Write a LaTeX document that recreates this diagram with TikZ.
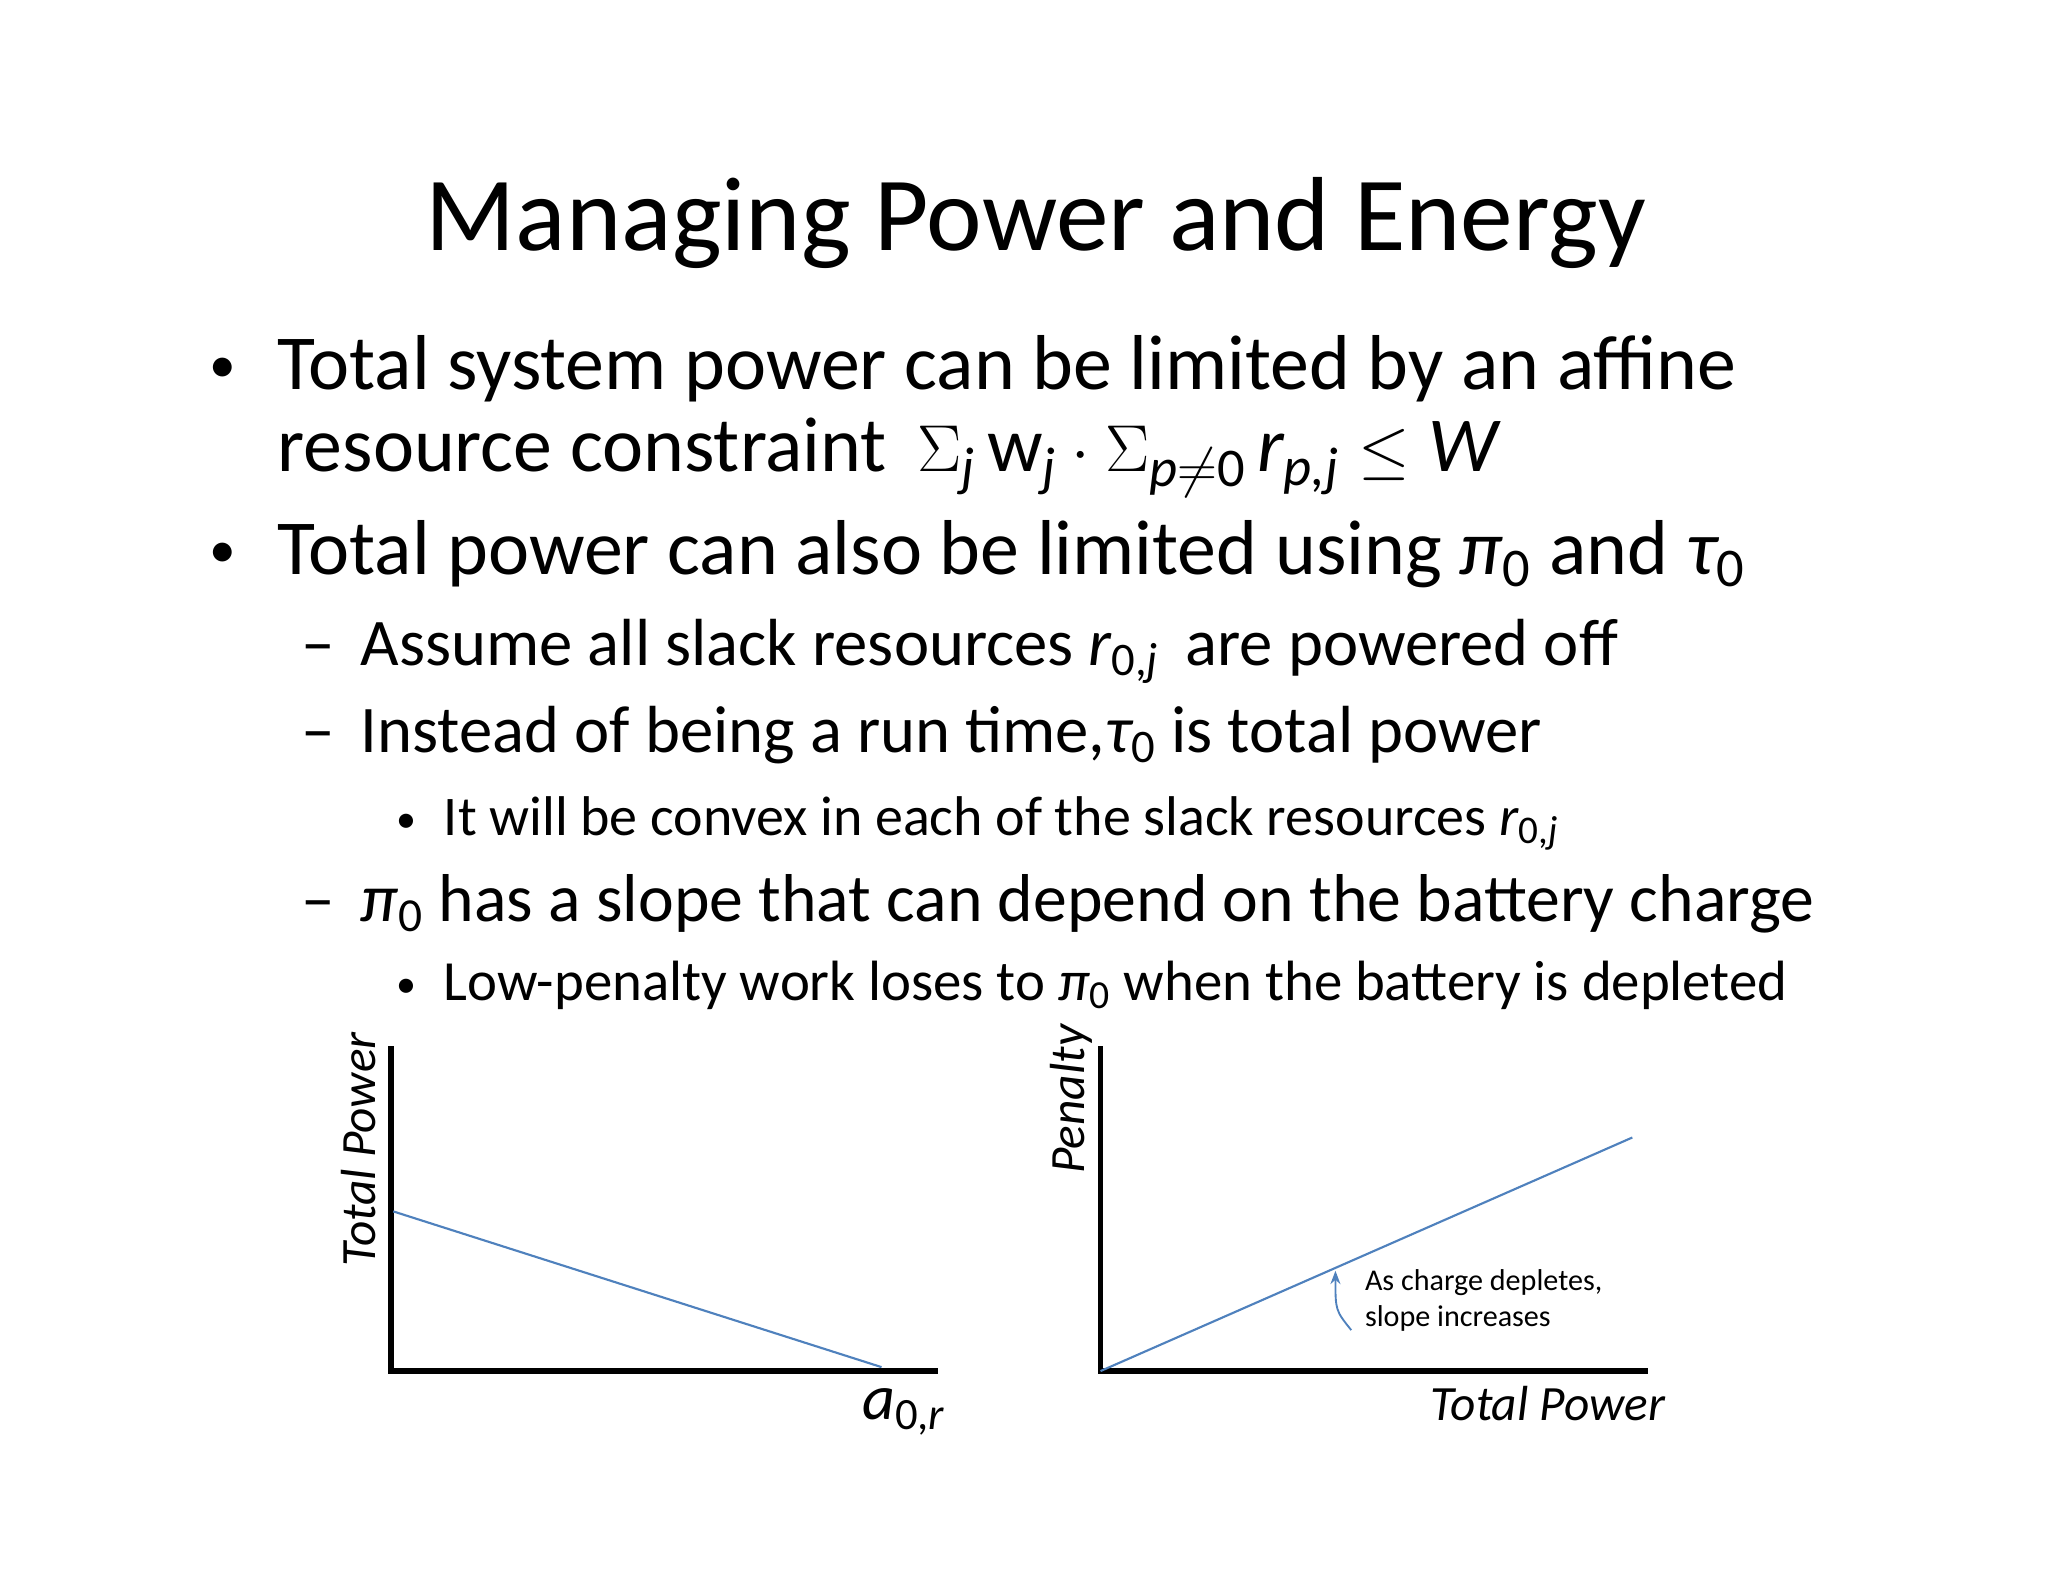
\documentclass[tikz,border=0pt]{standalone}
\usepackage{amsmath}
\usepackage{fontspec}
\setmainfont{Carlito}
\usetikzlibrary{arrows.meta}
\definecolor{lineblue}{RGB}{79,129,189}
\newcommand{\iv}[1]{\text{\itshape #1}}
\begin{document}
\begin{tikzpicture}[x=0.495pt,y=-0.495pt,
  txt/.style={anchor=base west,inner sep=0pt},
  axis/.style={line width=2.2pt,black},
  plot/.style={lineblue,line width=0.8pt}]
\useasboundingbox (0,0) rectangle (1552,1199);
\node[anchor=base,inner sep=0pt,font=\fontsize{39.5}{48}\selectfont] (title) at (785,190) {Managing Power and Energy};
\node[txt,font=\fontsize{20}{37}\selectfont] (b1) at (158,290) {•};
\node[txt,font=\fontsize{29.2}{37}\selectfont] (t1) at (210,295) {Total system power can be limited by an affine};
\node[txt,font=\fontsize{29.2}{37}\selectfont] (t1b) at (210,357) {resource constraint\, $\Sigma_{\iv{j}}\,\text{w}_{\iv{j}}\cdot\Sigma_{\iv{p}\neq\text{0}}\,\iv{r}_{\iv{p,j}}\leq\iv{W}$};
\node[txt,font=\fontsize{20}{37}\selectfont] (b2) at (158,430) {•};
\node[txt,font=\fontsize{29.2}{37}\selectfont] (t2) at (210,435) {Total power can also be limited using $\iv{π}_{\text{0}}$ and $\iv{τ}_{\text{0}}$};
\node[txt,font=\fontsize{25.2}{32}\selectfont] (dd1) at (228,504) {–};
\node[txt,font=\fontsize{25}{32}\selectfont] (d1) at (273,504) {Assume all slack resources $\iv{r}_{\text{0,\itshape j}}$\, are powered off};
\node[txt,font=\fontsize{25.2}{32}\selectfont] (dd2) at (228,570) {–};
\node[txt,font=\fontsize{25}{32}\selectfont] (d2) at (273,570) {Instead of being a run time,$\iv{τ}_{\text{0}}$ is total power};
\node[txt,font=\fontsize{15}{26}\selectfont] (bs1) at (300,631) {•};
\node[txt,font=\fontsize{21}{26}\selectfont] (s1) at (336,633) {It will be convex in each of the slack resources $\iv{r}_{\text{0,\itshape j}}$};
\node[txt,font=\fontsize{25.2}{32}\selectfont] (dd3) at (228,698) {–};
\node[txt,font=\fontsize{25.4}{33}\selectfont] (d3) at (273,698) {$\iv{π}_{\text{0}}$ has a slope that can depend on the battery charge};
\node[txt,font=\fontsize{15}{26}\selectfont] (bs2) at (300,756) {•};
\node[txt,font=\fontsize{21.3}{26}\selectfont] (s2) at (336,758) {Low-penalty work loses to $\iv{π}_{\text{0}}$ when the battery is depleted};
% left chart
\coordinate (lo) at (296,1039);
\coordinate (ltop) at (296,793);
\coordinate (lright) at (711,1039);
\draw[axis] (ltop) -- (lo) -- (lright);
\coordinate (l1) at (298,918); \coordinate (l2) at (668,1036);
\draw[plot] (l1) -- (l2);
\node[rotate=90,font=\fontsize{18.5}{22}\selectfont\itshape] (lyl) at (272,871) {Total Power};
\node[font=\fontsize{24}{28}\selectfont] (lxl) at (685,1070) {$\iv{a}_{\text{0,\itshape r}}$};
% right chart
\coordinate (ro) at (834,1039);
\coordinate (rtop) at (834,793);
\coordinate (rright) at (1249,1039);
\draw[axis] (rtop) -- (ro) -- (rright);
\coordinate (r2) at (1237,862);
\draw[plot] (ro) -- (r2);
\node[rotate=90,font=\fontsize{18.5}{22}\selectfont\itshape] (ryl) at (812,833) {Penalty};
\node[font=\fontsize{18.5}{22}\selectfont\itshape] (rxl) at (1173,1064) {Total Power};
\node[txt,font=\fontsize{11.3}{14}\selectfont] (n1) at (1034,978) {As charge depletes,};
\node[txt,font=\fontsize{11.3}{14}\selectfont] (n2) at (1034,1005) {slope increases};
\coordinate (aS) at (1024,1008); \coordinate (aE) at (1012,963);
\draw[lineblue,line width=0.7pt,-{Stealth[length=5pt]}] (aS) .. controls (1012,993) .. (aE);
\end{tikzpicture}
\end{document}
